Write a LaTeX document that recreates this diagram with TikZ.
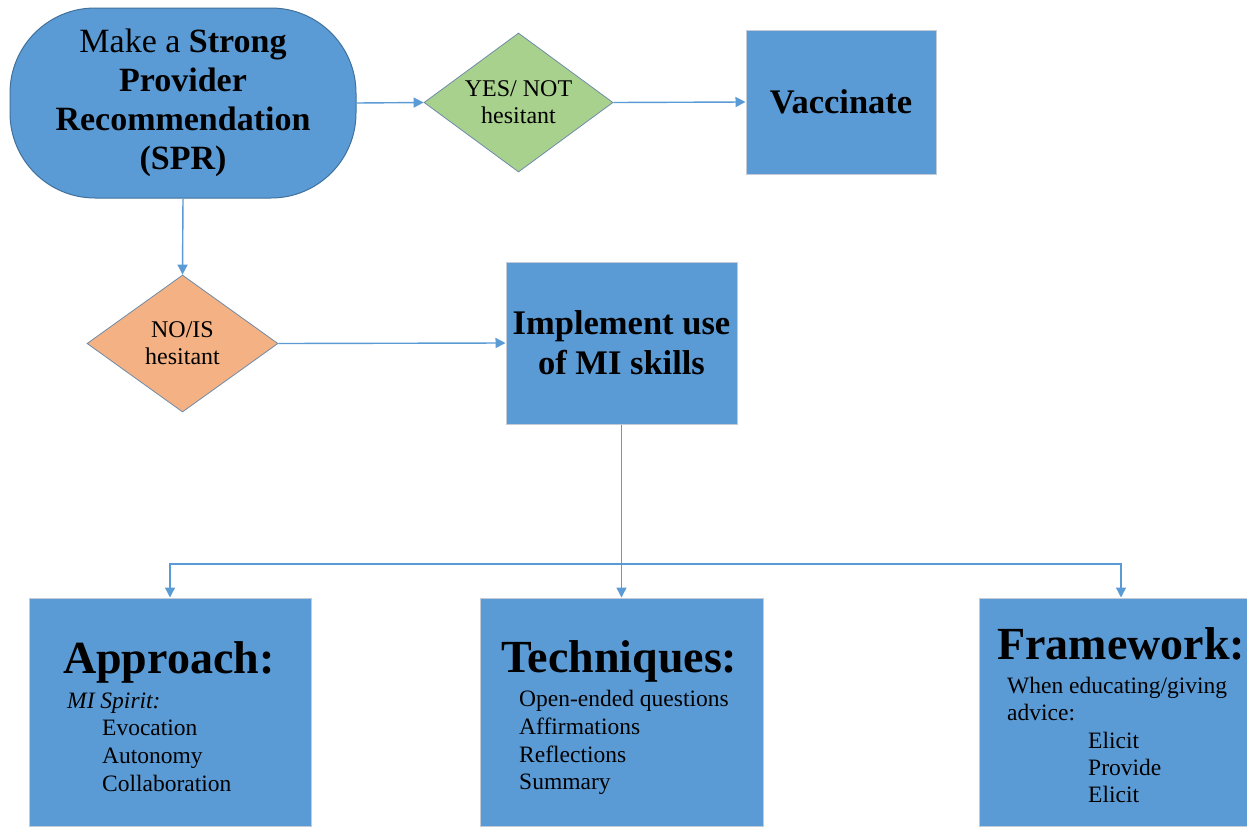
\documentclass[tikz,border=0pt]{standalone}
\usepackage{fontspec}
\setmainfont{Liberation Serif}
\usetikzlibrary{arrows.meta,shapes.geometric}
\definecolor{boxblue}{HTML}{5B9BD5}
\definecolor{darkblue}{HTML}{41719C}
\definecolor{arrowblue}{HTML}{5B9BD5}
\definecolor{diagreen}{HTML}{A9D18E}
\definecolor{diaorange}{HTML}{F4B183}
\definecolor{boxedge}{HTML}{C3CCD6}
\definecolor{diaedge}{HTML}{6F8BA8}
\begin{document}
\begin{tikzpicture}[x=1pt,y=-1pt,
  conn/.style={draw=arrowblue, line width=1.4pt, -{Triangle[length=10pt,width=10pt]}},
  plainline/.style={draw=arrowblue, line width=1.4pt},
  bluebox/.style={rectangle, draw=boxedge, line width=1pt, fill=boxblue, inner sep=0pt},
  decision/.style={diamond, draw=diaedge, line width=0.8pt, inner sep=0pt, aspect=1.36, align=center,
    font=\fontsize{24}{27}\selectfont},
  head/.style={anchor=base west, inner sep=0pt, font=\fontsize{46}{50}\selectfont\bfseries},
  body/.style={anchor=base west, inner sep=0pt, font=\fontsize{23.5}{28}\selectfont}
]
\clip (0,0) rectangle (1247,828);
\useasboundingbox (0,0) rectangle (1247,828);
\fill[white] (0,0) rectangle (1247,828);

% top row
\node[rectangle, rounded corners=85pt, draw=darkblue, line width=1pt, fill=boxblue,
  minimum width=346pt, minimum height=190pt, inner sep=0pt, align=center,
  font=\fontsize{34}{39}\selectfont] (spr) at (183,103)
  {Make a \textbf{Strong}\\ \textbf{Provider}\\ \textbf{Recommendation}\\ \textbf{(SPR)}};
\node[decision, fill=diagreen, minimum width=189pt, minimum height=139pt] (gd) at (518.5,102.5)
  {YES/ NOT\\ hesitant};
\node[bluebox, minimum width=190pt, minimum height=144pt, font=\fontsize{34.5}{39}\selectfont\bfseries]
  (vac) at (841,102) {Vaccinate};

% middle row
\node[decision, fill=diaorange, minimum width=191pt, minimum height=137pt] (od) at (182.5,343.5)
  {NO/IS\\ hesitant};
\node[bluebox, minimum width=231pt, minimum height=162pt, align=center,
  font=\fontsize{34.5}{40}\selectfont\bfseries] (impl) at (621.5,343)
  {Implement use\\ of MI skills};

% bottom row boxes
\node[bluebox, minimum width=282pt, minimum height=228pt] (appr) at (170,712) {};
\node[bluebox, minimum width=283pt, minimum height=228pt] (tech) at (621.5,712) {};
\node[bluebox, minimum width=284pt, minimum height=228pt] (frame) at (1121,712) {};

% bottom texts
\node[head] (apprh) at (63,673) {Approach:};
\node[body, font=\fontsize{23.5}{28}\selectfont\itshape] (appr1) at (67,708) {MI Spirit:};
\node[body] (appr2) at (102,735.5) {Evocation};
\node[body] (appr3) at (102,763.5) {Autonomy};
\node[body] (appr4) at (102,791.5) {Collaboration};

\node[head] (techh) at (501,672) {Techniques:};
\node[body] (tech1) at (519,706) {Open-ended questions};
\node[body] (tech2) at (519,734) {Affirmations};
\node[body] (tech3) at (519,762) {Reflections};
\node[body] (tech4) at (519,789) {Summary};

\node[head] (frameh) at (997,659) {Framework:};
\node[body] (frame1) at (1007,693) {When educating/giving};
\node[body] (frame2) at (1007,720) {advice:};
\node[body] (frame3) at (1088,748) {Elicit};
\node[body] (frame4) at (1088,775) {Provide};
\node[body] (frame5) at (1088,802) {Elicit};

% connectors
\draw[conn] (spr.east) -- (gd.west);
\draw[conn] (gd.east) -- (vac.west);
\draw[conn] (spr.south) -- (od.north);
\draw[conn] (od.east) -- (impl.west);
\coordinate (hub) at (621.5,564);
\draw[plainline] (impl.south) -- (hub);
\draw[conn] (hub) -| (appr.north);
\draw[conn] (hub) -- (tech.north);
\draw[conn] (hub) -| (frame.north);
\end{tikzpicture}
\end{document}
